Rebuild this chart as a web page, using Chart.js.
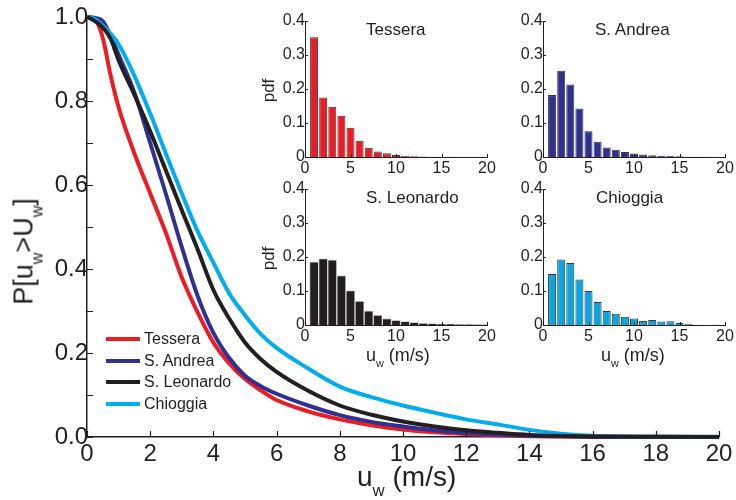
<!DOCTYPE html>
<html>
<head>
<meta charset="utf-8">
<title>Wind speed exceedance</title>
<script src="https://cdn.jsdelivr.net/npm/chart.js@4.4.1/dist/chart.umd.min.js"></script>
<style>
  body { margin: 0; background: #fff; }
  #wrap { position: relative; width: 736px; height: 500px; overflow: hidden;
          font-family: "Liberation Sans", Arial, sans-serif; color: #231f20; }
  #wrap canvas { position: absolute; }
  .lbl { position: absolute; white-space: nowrap; }
  .lbl sub { font-size: 0.6em; vertical-align: -0.6em; line-height: 0; }
  .rot { text-align: center; transform: rotate(-90deg); }
  #legend { position: absolute; left: 106px; top: 328px; font-size: 16px; }
  #legend .row { display: flex; align-items: center; height: 21.7px; }
  #legend .swatch { width: 34px; height: 4px; margin-right: 4px; }
</style>
</head>
<body>
<div id="wrap">
  <canvas id="mainChart" width="736" height="500" style="left:0;top:0"></canvas>
  <canvas id="tesseraChart" width="250" height="180" style="left:250px;top:0"></canvas>
  <canvas id="andreaChart" width="236" height="180" style="left:500px;top:0"></canvas>
  <canvas id="leonardoChart" width="250" height="170" style="left:250px;top:180px"></canvas>
  <canvas id="chioggiaChart" width="236" height="170" style="left:500px;top:180px"></canvas>
  <div id="legend"></div>
</div>
<script>
// Wind speed grid (m/s) for the exceedance curves
const uGrid = [0, 0.25, 0.5, 0.75, 1, 1.5, 2, 2.5, 3, 3.5, 4, 4.5, 5, 5.5, 6, 7, 8, 9, 10, 11, 12, 13, 14, 15, 16, 18, 20];

// P[u_w > U_w] per station
const tesseraExc  = [1.0, 0.995, 0.95, 0.86, 0.785, 0.675, 0.58, 0.485, 0.38, 0.297, 0.225, 0.175, 0.138, 0.111, 0.088, 0.061, 0.042, 0.028, 0.018, 0.011, 0.007, 0.004, 0.002, 0.001, 0.0005, 0, 0];
const andreaExc   = [1.0, 0.998, 0.99, 0.955, 0.91, 0.82, 0.70, 0.578, 0.452, 0.336, 0.248, 0.188, 0.146, 0.121, 0.103, 0.075, 0.052, 0.036, 0.025, 0.016, 0.010, 0.006, 0.003, 0.0015, 0.0008, 0.0002, 0];
const leonardoExc = [1.0, 0.99, 0.975, 0.948, 0.897, 0.815, 0.728, 0.634, 0.54, 0.447, 0.35, 0.282, 0.225, 0.185, 0.155, 0.11, 0.075, 0.053, 0.037, 0.025, 0.016, 0.010, 0.005, 0.0025, 0.001, 0.0003, 0];
const chioggiaExc = [1.0, 0.995, 0.98, 0.96, 0.935, 0.86, 0.77, 0.674, 0.58, 0.49, 0.415, 0.342, 0.29, 0.245, 0.212, 0.163, 0.12, 0.095, 0.075, 0.058, 0.042, 0.030, 0.017, 0.008, 0.003, 0.001, 0.0005];

// Histogram bins (centres, m/s) and pdf values per station
const binCenters  = [1, 2, 3, 4, 5, 6, 7, 8, 9, 10, 11, 12, 13, 14, 15, 16, 17, 18, 19, 20];
const tesseraPdf  = [0.352, 0.175, 0.148, 0.121, 0.086, 0.048, 0.027, 0.016, 0.011, 0.006, 0.004, 0.002, 0.0015, 0.001, 0.001, 0.0005, 0.0003, 0.0002, 0.0001, 0.0001];
const andreaPdf   = [0.182, 0.254, 0.213, 0.143, 0.076, 0.045, 0.028, 0.021, 0.015, 0.010, 0.007, 0.005, 0.004, 0.003, 0.002, 0.001, 0.001, 0.0005, 0.0003, 0.0002];
const leonardoPdf = [0.186, 0.195, 0.192, 0.145, 0.101, 0.070, 0.042, 0.029, 0.019, 0.014, 0.011, 0.008, 0.006, 0.004, 0.003, 0.002, 0.001, 0.001, 0.0005, 0.0003];
const chioggiaPdf = [0.150, 0.193, 0.182, 0.134, 0.100, 0.068, 0.041, 0.033, 0.024, 0.019, 0.012, 0.015, 0.010, 0.011, 0.006, 0.003, 0.001, 0.001, 0.0005, 0.0003];

const stationNames = ['Tessera', 'S. Andrea', 'S. Leonardo', 'Chioggia'];

const FONT = '"Liberation Sans", Arial, sans-serif';
const INK = '#231f20';
const colors = ['#ed1c24', '#2e3192', '#231f20', '#00aeef'];

// Ticks drawn inside the plot area (MATLAB style)
const inwardTicks = {
  id: 'inwardTicks',
  afterDatasetsDraw(chart, args, opts) {
    const { ctx, chartArea } = chart;
    const xs = chart.scales.x, ys = chart.scales.y;
    ctx.save();
    ctx.strokeStyle = INK;
    ctx.lineWidth = opts.width || 1;
    ctx.beginPath();
    xs.ticks.forEach(t => {
      const px = Math.round(xs.getPixelForValue(t.value)) + 0.5;
      ctx.moveTo(px, chartArea.bottom);
      ctx.lineTo(px, chartArea.bottom - opts.len);
    });
    ys.ticks.forEach(t => {
      const py = Math.round(ys.getPixelForValue(t.value)) + 0.5;
      ctx.moveTo(chartArea.left, py);
      ctx.lineTo(chartArea.left + opts.len, py);
    });
    ctx.stroke();
    ctx.restore();
  }
};

// Main exceedance chart
function renderMainChart() {
  const series = [tesseraExc, andreaExc, leonardoExc, chioggiaExc];
  const drawOrder = [3, 2, 0, 1];
  return new Chart(document.getElementById('mainChart'), {
    type: 'line',
    data: {
      datasets: series.map((vals, i) => ({
        label: stationNames[i],
        data: uGrid.map((u, k) => ({ x: u, y: vals[k] })),
        borderColor: colors[i],
        borderWidth: 4,
        pointRadius: 0,
        cubicInterpolationMode: 'monotone',
        clip: false,
        order: drawOrder[i]
      }))
    },
    options: {
      responsive: false,
      animation: false,
      events: [],
      layout: { padding: { top: 17, right: 17, left: 0, bottom: 0 } },
      plugins: {
        legend: { display: false },
        tooltip: { enabled: false },
        inwardTicks: { len: 6, width: 1.2 }
      },
      scales: {
        x: {
          type: 'linear', min: 0, max: 20,
          grid: { display: false, drawTicks: false },
          border: { color: INK, width: 1.5 },
          ticks: { stepSize: 2, autoSkip: false, maxRotation: 0, padding: 3,
                   color: INK, font: { family: FONT, size: 24 } },
          afterFit: s => { s.height = 63; s.paddingLeft = 0; s.paddingRight = 0; }
        },
        y: {
          min: 0, max: 1,
          grid: { display: false, drawTicks: false },
          border: { color: INK, width: 1.5 },
          ticks: { stepSize: 0.1, autoSkip: false, padding: -1,
                   color: INK, font: { family: FONT, size: 24 },
                   callback: v => Math.round(v * 10) % 2 === 0 ? v.toFixed(1) : '' },
          afterFit: s => { s.width = 87; s.paddingTop = 0; s.paddingBottom = 0; }
        }
      }
    },
    plugins: [inwardTicks]
  });
}

// One inset histogram
function renderInset(id, pdf, fill, edge, barPct, box) {
  return new Chart(document.getElementById(id), {
    type: 'bar',
    data: {
      datasets: [{
        data: binCenters.map((c, i) => ({ x: c, y: pdf[i] })),
        backgroundColor: fill,
        borderColor: edge,
        borderWidth: 1,
        barPercentage: barPct,
        categoryPercentage: 1
      }]
    },
    options: {
      responsive: false,
      animation: false,
      events: [],
      layout: { padding: { top: box.top, right: box.right, left: 0, bottom: 0 } },
      plugins: {
        legend: { display: false },
        tooltip: { enabled: false },
        inwardTicks: { len: 3, width: 1 }
      },
      scales: {
        x: {
          type: 'linear', min: 0, max: 20, offset: false,
          grid: { display: false, drawTicks: false },
          border: { color: INK, width: 1 },
          ticks: { stepSize: 5, autoSkip: false, maxRotation: 0, padding: 2,
                   color: INK, font: { family: FONT, size: 16 } },
          afterFit: s => { s.height = box.xh; s.paddingLeft = 0; s.paddingRight = 0; }
        },
        y: {
          min: 0, max: 0.4,
          grid: { display: false, drawTicks: false },
          border: { color: INK, width: 1 },
          ticks: { stepSize: 0.1, autoSkip: false, padding: 0,
                   color: INK, font: { family: FONT, size: 16 } },
          afterFit: s => { s.width = box.yw; s.paddingTop = 0; s.paddingBottom = 0; }
        }
      }
    },
    plugins: [inwardTicks]
  });
}

// Free-floating text (titles with subscripts)
function addLabel(html, left, top, size, extra) {
  const el = document.createElement('div');
  el.className = 'lbl' + (extra ? ' ' + extra : '');
  el.innerHTML = html;
  el.style.left = left + 'px';
  el.style.top = top + 'px';
  el.style.fontSize = size + 'px';
  el.style.lineHeight = size + 'px';
  document.getElementById('wrap').appendChild(el);
  return el;
}

function addRotated(html, cx, cy, size) {
  const w = 160;
  const el = addLabel(html, cx - w / 2, cy - size / 2, size, 'rot');
  el.style.width = w + 'px';
}

function buildLegend(chart) {
  const box = document.getElementById('legend');
  chart.data.datasets.forEach(ds => {
    const row = document.createElement('div');
    row.className = 'row';
    const sw = document.createElement('span');
    sw.className = 'swatch';
    sw.style.background = ds.borderColor;
    const txt = document.createElement('span');
    txt.textContent = ds.label;
    row.appendChild(sw);
    row.appendChild(txt);
    box.appendChild(row);
  });
}

function initFigure() {
  const main = renderMainChart();
  buildLegend(main);

  renderInset('tesseraChart', tesseraPdf, '#ed1c24', '#3a3a3a', 0.88, { top: 21, right: 13, yw: 55, xh: 23 });
  renderInset('andreaChart', andreaPdf, '#2e3192', '#3a3a3a', 0.88, { top: 21, right: 11, yw: 43, xh: 23 });
  renderInset('leonardoChart', leonardoPdf, '#231f20', '#d8d8d8', 1.0, { top: 9, right: 13, yw: 55, xh: 25 });
  renderInset('chioggiaChart', chioggiaPdf, '#0aa6e2', '#3a3a3a', 0.88, { top: 9, right: 11, yw: 43, xh: 25 });

  // Axis titles
  addLabel('u<sub>w</sub> (m/s)', 357, 463, 28);
  addRotated('P[u<sub>w</sub>&gt;U<sub>w</sub>]', 24, 251, 27);
  addRotated('pdf', 268, 90, 17);
  addRotated('pdf', 268, 258, 17);
  addLabel('u<sub>w</sub> (m/s)', 366, 346, 18);
  addLabel('u<sub>w</sub> (m/s)', 601, 346, 18);

  // Inset titles
  addLabel('Tessera', 366, 21, 17);
  addLabel('S. Andrea', 595, 21, 17);
  addLabel('S. Leonardo', 366, 189, 17);
  addLabel('Chioggia', 596, 189, 17);
}

document.addEventListener('DOMContentLoaded', initFigure);
</script>
</body>
</html>
